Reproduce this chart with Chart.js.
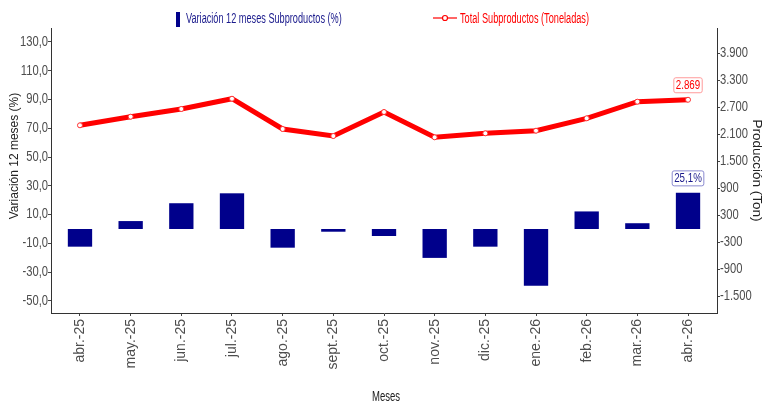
<!DOCTYPE html>
<html lang="es">
<head>
<meta charset="UTF-8">
<title>Subproductos</title>
<script src="https://cdn.jsdelivr.net/npm/chart.js"></script>
<style>
  body { margin: 0; background: #fff; }
  .wrap { position: relative; width: 770px; height: 404px; }
</style>
</head>
<body>
<div class="wrap"><canvas id="g"></canvas></div>
<script>
  const meses = ['abr.-25', 'may.-25', 'jun.-25', 'jul.-25', 'ago.-25', 'sept.-25', 'oct.-25',
    'nov.-25', 'dic.-25', 'ene.-26', 'feb.-26', 'mar.-26', 'abr.-26'];
  const variacion = [-12.3, 5.5, 17.9, 24.8, -13.0, -1.9, -4.9, -20.1, -12.3, -39.4, 12.2, 4.0, 25.1];
  const toneladas = [2302, 2493, 2664, 2892, 2220, 2064, 2597, 2035, 2124, 2182, 2457, 2826, 2869];
  const ticksIzq = [-50, -30, -10, 10, 30, 50, 70, 90, 110, 130];
  const ticksDer = [-1500, -900, -300, 300, 900, 1500, 2100, 2700, 3300, 3900];

  const SANS = '"Liberation Sans", Arial, sans-serif';

  function miles(v) {
    const s = String(Math.abs(Math.round(v))).replace(/\B(?=(\d{3})+(?!\d))/g, '.');
    return (v < 0 ? '-' : '') + s;
  }
  function coma(v) {
    return v.toFixed(1).replace('.', ',');
  }

  // texto angosto (la fuente del original es condensada)
  function texto(c, t, x, y, size, color, sx, align) {
    c.save();
    c.translate(x, y);
    c.scale(sx, 1);
    c.font = size + 'px ' + SANS;
    c.fillStyle = color;
    c.textAlign = align;
    c.textBaseline = 'middle';
    c.fillText(t, 0, 0);
    c.restore();
  }

  // comprime las etiquetas de los ejes verticales
  function angosto(s) {
    if (s._angosto) return;
    s._angosto = true;
    const orig = s.drawLabels.bind(s);
    s.drawLabels = area => {
      const c = s.ctx;
      const ox = s.position === 'left' ? s.right - 3 : s.left + 3;
      c.save();
      c.translate(ox, 0);
      c.scale(0.8, 1);
      c.translate(-ox, 0);
      orig(area);
      c.restore();
    };
  }

  function etiqueta(c, txt, x, yBase, color, borde) {
    c.font = '13px ' + SANS;
    const w = c.measureText(txt).width * 0.75 + 4;
    const h = 15;
    const top = yBase - 7 - h;
    c.beginPath();
    c.roundRect(x - w / 2, top, w, h, 2);
    c.fillStyle = '#fff';
    c.fill();
    c.strokeStyle = borde;
    c.lineWidth = 1;
    c.stroke();
    texto(c, txt, x, top + h / 2 + 0.5, 13, color, 0.75, 'center');
  }

  const extras = {
    id: 'extras',
    afterDraw(chart) {
      const c = chart.ctx;
      c.save();
      // leyenda
      c.fillStyle = '#00008B';
      c.fillRect(176, 12, 4, 15);
      texto(c, 'Variación 12 meses Subproductos (%)', 186, 19.5, 14, '#1a1a8c', 0.655, 'left');
      c.strokeStyle = '#ff0000';
      c.lineWidth = 1.2;
      c.beginPath();
      c.moveTo(433, 18);
      c.lineTo(457, 18);
      c.stroke();
      c.beginPath();
      c.arc(445, 18, 2.5, 0, Math.PI * 2);
      c.fillStyle = '#fff';
      c.fill();
      c.stroke();
      texto(c, 'Total Subproductos (Toneladas)', 460, 19.5, 14, '#ff0000', 0.655, 'left');

      // titulos de ejes
      c.save();
      c.translate(15, 156);
      c.rotate(-Math.PI / 2);
      c.textAlign = 'center';
      c.textBaseline = 'middle';
      c.font = '12px ' + SANS;
      c.fillStyle = '#222';
      c.fillText('Variación 12 meses (%)', 0, 0);
      c.restore();
      texto(c, 'Meses', (chart.chartArea.left + chart.chartArea.right) / 2 + 2, 397, 14, '#222', 0.68, 'center');

      // ultimos valores
      const n = meses.length - 1;
      const pLinea = chart.getDatasetMeta(1).data[n];
      const pBarra = chart.getDatasetMeta(0).data[n];
      etiqueta(c, miles(toneladas[n]), pLinea.x, pLinea.y, '#ff0000', '#ff9a9a');
      etiqueta(c, coma(variacion[n]) + '%', pBarra.x, pBarra.y, '#1a1a8c', '#8a8ad0');
      c.restore();
    }
  };

  new Chart(document.getElementById('g'), {
    type: 'bar',
    data: {
      labels: meses,
      datasets: [{
        type: 'bar',
        label: 'Variación 12 meses Subproductos (%)',
        data: variacion,
        yAxisID: 'y',
        backgroundColor: '#00008B',
        borderWidth: 0,
        barPercentage: 0.48,
        categoryPercentage: 1,
        order: 2
      }, {
        type: 'line',
        label: 'Total Subproductos (Toneladas)',
        data: toneladas,
        yAxisID: 'y1',
        borderColor: '#ff0000',
        borderWidth: 5,
        pointRadius: 2.5,
        pointBackgroundColor: '#fff',
        pointBorderColor: '#ff3030',
        pointBorderWidth: 1,
        tension: 0,
        order: 1
      }]
    },
    options: {
      responsive: true,
      maintainAspectRatio: false,
      animation: false,
      layout: { padding: { top: 28, left: 0, right: 0, bottom: 0 } },
      plugins: {
        legend: { display: false },
        tooltip: { enabled: false }
      },
      scales: {
        x: {
          offset: false,
          afterBuildTicks: s => { s._startValue = -0.572; s._valueRange = 13.144; },
          afterFit: s => { s.height = 91; },
          grid: { drawOnChartArea: false, offset: false, tickLength: 3, color: '#444' },
          border: { color: '#333' },
          ticks: {
            autoSkip: false, minRotation: 90, maxRotation: 90, padding: 3,
            color: '#4d4d4d', font: { family: SANS, size: 14 }
          }
        },
        y: {
          position: 'left',
          min: -58.4,
          max: 139.7,
          afterBuildTicks: s => { s.ticks = ticksIzq.map(v => ({ value: v })); },
          afterFit: s => { s.width = 51; },
          afterUpdate: angosto,
          grid: { drawOnChartArea: false, tickLength: 3, color: '#444' },
          border: { color: '#333' },
          ticks: {
            padding: 0, color: '#4d4d4d', font: { family: SANS, size: 14 },
            callback: v => coma(v)
          }
        },
        y1: {
          position: 'right',
          min: -1865,
          max: 4462,
          afterBuildTicks: s => { s.ticks = ticksDer.map(v => ({ value: v })); },
          afterFit: s => { s.width = 53; },
          afterUpdate: angosto,
          grid: { drawOnChartArea: false, tickLength: 3, color: '#444' },
          border: { color: '#333' },
          ticks: {
            padding: 0, color: '#4d4d4d', font: { family: SANS, size: 14 },
            callback: v => miles(v)
          },
          title: {
            display: true, text: 'Producción (Ton)', color: '#222',
            font: { family: SANS, size: 13.5 }, padding: { top: 5, bottom: 0 }
          }
        }
      }
    },
    plugins: [extras]
  });
</script>
</body>
</html>
